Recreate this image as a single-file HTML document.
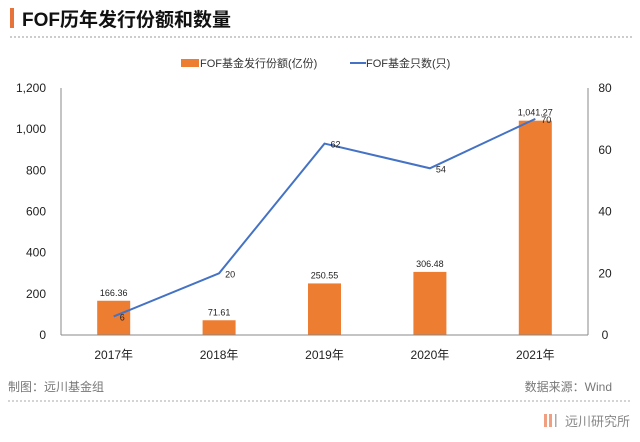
<!DOCTYPE html>
<html><head><meta charset="utf-8">
<style>
body{margin:0;background:#fff;width:640px;height:437px;overflow:hidden;font-family:"Liberation Sans","Noto Sans CJK SC",sans-serif;}
</style></head>
<body>
<svg width="640" height="437" xmlns="http://www.w3.org/2000/svg" font-family="Liberation Sans, Noto Sans CJK SC, sans-serif">
<rect x="10" y="8" width="4" height="20" fill="#e8733a"/>
<text x="22" y="26" font-size="19" font-weight="bold" fill="#111">FOF历年发行份额和数量</text>
<line x1="10" y1="37" x2="632" y2="37" stroke="#999" stroke-dasharray="2,2"/>
<g>
<rect x="181" y="59" width="18" height="8" fill="#ed7d31"/>
<text x="200" y="67" font-size="11" fill="#333">FOF基金发行份额(亿份)</text>
<line x1="350" y1="63" x2="366" y2="63" stroke="#4472c4" stroke-width="2"/>
<text x="366" y="67" font-size="11" fill="#333">FOF基金只数(只)</text>
</g>
<g id="chart"></g>
<text x="8" y="391" font-size="12" fill="#777">制图：远川基金组</text>
<text x="612" y="391" font-size="12" fill="#777" text-anchor="end">数据来源：Wind</text>
<line x1="8" y1="401" x2="632" y2="401" stroke="#aaa" stroke-dasharray="2,2"/>
<g>
<rect x="544" y="414" width="3" height="13" fill="#f0a080"/><rect x="549" y="414" width="3" height="13" fill="#f0a080"/><rect x="555" y="414" width="1.5" height="13" fill="#aaa"/>
<text x="565" y="426" font-size="13" fill="#888">远川研究所</text>
</g>
</svg>
<script>
const categories=["2017年","2018年","2019年","2020年","2021年"];
const barValues=[166.36,71.61,250.55,306.48,1041.27];
const barLabels=["166.36","71.61","250.55","306.48","1,041.27"];
const lineValues=[6,20,62,54,70];
const leftTicks=[0,200,400,600,800,1000,1200];
const leftTickLabels=["0","200","400","600","800","1,000","1,200"];
const rightTicks=[0,20,40,60,80];
const NS="http://www.w3.org/2000/svg";
const g=document.getElementById('chart');
const L=61,R=588,T=88,B=335;
const yL=v=>B-v/1200*(B-T);
const yR=v=>B-v/80*(B-T);
const bw=(R-L)/categories.length;
const xC=i=>L+bw*(i+0.5);
function mk(tag,attrs,txt){const e=document.createElementNS(NS,tag);for(const k in attrs)e.setAttribute(k,attrs[k]);if(txt!==undefined)e.textContent=txt;g.appendChild(e);return e;}
let e;
e=mk('line',{x1:L,y1:T,x2:L,y2:B,stroke:'#888'});


e=mk('line',{x1:R,y1:T,x2:R,y2:B,stroke:'#888'});


leftTicks.forEach((t,i)=>{e=mk('text',{x:46,y:yL(t)+4,'font-size':12,'text-anchor':'end',fill:'#222'},leftTickLabels[i]);

});
rightTicks.forEach(t=>{e=mk('text',{x:605,y:yR(t)+4,'font-size':12,'text-anchor':'middle',fill:'#222'},String(t));

});
categories.forEach((c,i)=>{
e=mk('rect',{x:xC(i)-16.5,y:yL(barValues[i]),width:33,height:B-yL(barValues[i]),fill:'#ed7d31'});


e=mk('text',{x:xC(i),y:yL(barValues[i])-5,'font-size':9,'text-anchor':'middle',fill:'#222'},barLabels[i]);


e=mk('text',{x:xC(i),y:359,'font-size':12,'text-anchor':'middle',fill:'#222'},c);


});
e=mk('line',{x1:L,y1:B,x2:R,y2:B,stroke:'#888'});


e=mk('polyline',{points:lineValues.map((v,i)=>xC(i)+','+yR(v)).join(' '),fill:'none',stroke:'#4472c4','stroke-width':2});


lineValues.forEach((v,i)=>{e=mk('text',{x:xC(i)+6,y:yR(v)+4,'font-size':9,fill:'#222'},String(v));

});
</script>
</body></html>
